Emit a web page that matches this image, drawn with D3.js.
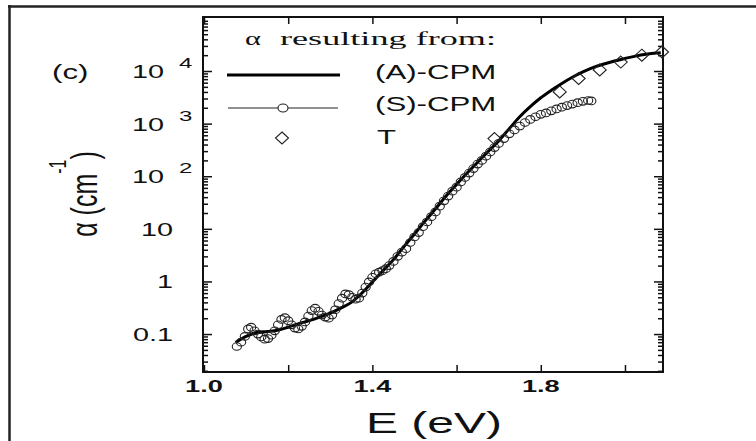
<!DOCTYPE html>
<html><head><meta charset="utf-8">
<script src="https://cdn.jsdelivr.net/npm/d3@7"></script>
<style>body{margin:0;background:#fff} svg{display:block}</style>
</head><body><svg id="c" width="756" height="441"></svg>
<script>
// (A)-CPM curve
const aE = [1.075,1.10,1.125,1.15,1.175,1.20,1.225,1.25,1.275,1.30,1.325,1.35,1.375,1.40,1.425,1.45,1.475,1.50,1.525,1.55,1.575,1.60,1.625,1.65,1.675,1.70,1.725,1.75,1.775,1.80,1.825,1.85,1.875,1.90,1.925,1.95,1.975,2.00,2.025,2.05,2.075,2.085];
const aAlpha = [0.069,0.09,0.107,0.112,0.118,0.135,0.158,0.18,0.21,0.25,0.31,0.40,0.60,0.98,1.6,2.6,4.6,8,14,24,42,70,115,185,295,470,800,1350,2100,3100,4300,5800,7600,9600,11700,13600,15500,17300,19200,20800,22000,22300];
// (S)-CPM points
const sE = [1.078,1.088,1.097,1.105,1.112,1.12,1.128,1.136,1.144,1.152,1.16,1.168,1.176,1.184,1.192,1.2,1.208,1.216,1.224,1.232,1.24,1.248,1.256,1.264,1.272,1.28,1.288,1.296,1.304,1.312,1.32,1.328,1.336,1.344,1.352,1.36,1.368,1.376,1.384,1.392,1.4,1.408,1.416,1.424,1.432,1.44,1.45,1.46,1.47,1.48,1.49,1.5,1.51,1.52,1.53,1.54,1.55,1.56,1.57,1.58,1.59,1.6,1.61,1.62,1.63,1.64,1.65,1.66,1.67,1.68,1.69,1.7,1.7125,1.725,1.7375,1.75,1.7625,1.775,1.7875,1.8,1.8125,1.825,1.8375,1.85,1.8625,1.875,1.8875,1.9,1.9125,1.92];
const sAlpha = [0.058,0.07,0.09,0.125,0.135,0.115,0.1,0.088,0.08,0.082,0.095,0.115,0.15,0.19,0.205,0.18,0.15,0.13,0.125,0.14,0.17,0.22,0.28,0.31,0.27,0.23,0.21,0.2,0.23,0.29,0.38,0.48,0.58,0.56,0.5,0.46,0.48,0.6,0.78,0.98,1.2,1.4,1.5,1.6,1.75,2.0,2.4,3.0,3.6,4.2,5.5,7.0,8.5,11,13.5,17,21,27,34,42,52,62,78,95,115,140,170,200,240,290,350,420,520,640,760,900,1050,1200,1350,1500,1600,1750,1900,2050,2200,2350,2500,2650,2750,2700];
// T points
const tE = [1.69,1.845,1.89,1.94,1.99,2.04,2.088];
const tAlpha = [520,4000,7200,10500,14800,20000,23000];

const xTickValues = [1.0,1.2,1.4,1.6,1.8,2.0];
const xTickLabels = ["1.0","","1.4","","1.8",""];
const yTickValues = [0.1,1,10,100,1000,10000];
const yTickBase = ["0.1","1","10","10","10","10"];
const yTickExp = ["","","","2","3","4"];
const legendTitleSymbol = "α";
const legendTitle = "resulting from:";
const legendLabels = ["(A)-CPM","(S)-CPM","T"];
const panelLabel = "(c)";
const xTitle = "E (eV)";
const yTitleMain = "α (cm";
const yTitleExp = "-1";
const yTitleEnd = ")";

const svg = d3.select("#c");
const SANS = "'Liberation Sans', Arial, Helvetica, sans-serif";
const SERIF = "'Liberation Serif', 'Times New Roman', serif";
const INK = "#111";
const plot = {l:203, r:663, t:17, b:372};
const x = d3.scaleLinear().domain([0.9976, 2.0903]).range([plot.l, plot.r]);
const y = d3.scaleLog().domain([0.019, 106300]).range([plot.b, plot.t]);

// outer border (top and left)
svg.append("line").attr("x1",8).attr("x2",756).attr("y1",6.5).attr("y2",6.5).attr("stroke","#222").attr("stroke-width",2.5);
svg.append("line").attr("x1",9.5).attr("x2",9.5).attr("y1",5).attr("y2",441).attr("stroke","#222").attr("stroke-width",2.5);

// ticks
const isMajor = v => Math.abs(Math.log10(v) - Math.round(Math.log10(v))) < 1e-6;
const minorY = y.ticks().filter(v => !isMajor(v));
function styleAxis(g){ g.select(".domain").remove(); g.selectAll("line").attr("stroke",INK).attr("stroke-width",1.5); }
svg.append("g").attr("transform",`translate(${plot.l},0)`).call(d3.axisLeft(y).tickValues(yTickValues).tickSizeInner(-9).tickSizeOuter(0).tickFormat("")).call(styleAxis);
svg.append("g").attr("transform",`translate(${plot.l},0)`).call(d3.axisLeft(y).tickValues(minorY).tickSizeInner(-5).tickSizeOuter(0).tickFormat("")).call(styleAxis);
svg.append("g").attr("transform",`translate(${plot.r},0)`).call(d3.axisRight(y).tickValues(yTickValues).tickSizeInner(-9).tickSizeOuter(0).tickFormat("")).call(styleAxis);
svg.append("g").attr("transform",`translate(${plot.r},0)`).call(d3.axisRight(y).tickValues(minorY).tickSizeInner(-5).tickSizeOuter(0).tickFormat("")).call(styleAxis);
svg.append("g").attr("transform",`translate(0,${plot.b})`).call(d3.axisBottom(x).tickValues(xTickValues).tickSizeInner(-7).tickSizeOuter(0).tickFormat("")).call(styleAxis);
svg.append("g").attr("transform",`translate(0,${plot.t})`).call(d3.axisTop(x).tickValues(xTickValues).tickSizeInner(-7).tickSizeOuter(0).tickFormat("")).call(styleAxis);

// frame
svg.append("rect").attr("x",plot.l).attr("y",plot.t).attr("width",plot.r-plot.l).attr("height",plot.b-plot.t)
  .attr("fill","none").attr("stroke",INK).attr("stroke-width",2);

// text helper (source figure is horizontally stretched)
function txt(px,py,s,o={}){
  const t = svg.append("text")
    .attr("transform",`translate(${px},${py}) scale(${o.sx||1.6},1)`)
    .attr("font-family",o.family||SANS).attr("font-size",o.size||18)
    .attr("font-weight",o.weight||"normal").attr("text-anchor",o.anchor||"start")
    .attr("fill",INK).text(s);
  if(o.len){ t.attr("textLength",o.len).attr("lengthAdjust","spacingAndGlyphs"); }
  return t;
}

// y tick labels
yTickValues.forEach((v,i)=>{
  if(yTickExp[i]){
    txt(164, y(v)+7, yTickBase[i], {anchor:"end"});
    txt(179, y(v)-3, yTickExp[i], {size:15});
  } else {
    txt(173, y(v)+7, yTickBase[i], {anchor:"end"});
  }
});
// x tick labels
xTickValues.forEach((v,i)=>{ if(xTickLabels[i]) txt(x(v), 392, xTickLabels[i], {anchor:"middle", weight:"bold", size:17}); });

// axis titles
txt(366, 433, xTitle, {size:30});
const yt = svg.append("text")
  .attr("transform","translate(97,194) scale(1.5,1) rotate(-90)")
  .attr("font-family",SANS).attr("font-size",25).attr("text-anchor","middle").attr("fill",INK);
yt.append("tspan").text(yTitleMain);
yt.append("tspan").attr("font-size",16).attr("dy",-21).text(yTitleExp);
yt.append("tspan").attr("dy",21).text(yTitleEnd);

// panel label
txt(52, 79, panelLabel, {size:19.5});

// data: A-CPM line
const line = d3.line().x((d,i)=>x(aE[i])).y((d,i)=>y(aAlpha[i])).curve(d3.curveCatmullRom.alpha(0.5));
svg.append("path").datum(aE).attr("d",line).attr("fill","none").attr("stroke","#000").attr("stroke-width",3).attr("stroke-linejoin","round");

// S-CPM circles
svg.append("g").selectAll("ellipse").data(sE).join("ellipse")
  .attr("cx",(d,i)=>x(sE[i])).attr("cy",(d,i)=>y(sAlpha[i])).attr("rx",4.6).attr("ry",3.8)
  .attr("fill","none").attr("stroke","#222").attr("stroke-width",1.1);

// T diamonds
const diamond = (cx,cy)=>`M${cx},${cy-6}L${cx+6.5},${cy}L${cx},${cy+6}L${cx-6.5},${cy}Z`;
svg.append("g").selectAll("path").data(tE).join("path")
  .attr("d",(d,i)=>diamond(x(tE[i]), y(tAlpha[i])))
  .attr("fill","none").attr("stroke","#222").attr("stroke-width",1.1);

// legend
const lg = svg.append("g");
svg.append("text").attr("transform","translate(245,45) scale(1.6,1)").attr("font-family",SERIF).attr("font-size",19).attr("fill",INK).text(legendTitleSymbol);
txt(280, 45, legendTitle, {family:SERIF, size:18, len:216/1.6});
lg.append("line").attr("x1",227).attr("x2",340).attr("y1",75).attr("y2",75).attr("stroke","#000").attr("stroke-width",3);
lg.append("line").attr("x1",228).attr("x2",338).attr("y1",108).attr("y2",108).attr("stroke","#222").attr("stroke-width",1.2);
lg.append("ellipse").attr("cx",283).attr("cy",108).attr("rx",5).attr("ry",4).attr("fill","#fff").attr("stroke","#222").attr("stroke-width",1.1);
lg.append("path").attr("d",diamond(282,138)).attr("fill","none").attr("stroke","#222").attr("stroke-width",1.1);
txt(375, 79, legendLabels[0], {size:19.5});
txt(375, 111, legendLabels[1], {size:19.5});
txt(377, 144, legendLabels[2], {size:19.5});
</script></body></html>
